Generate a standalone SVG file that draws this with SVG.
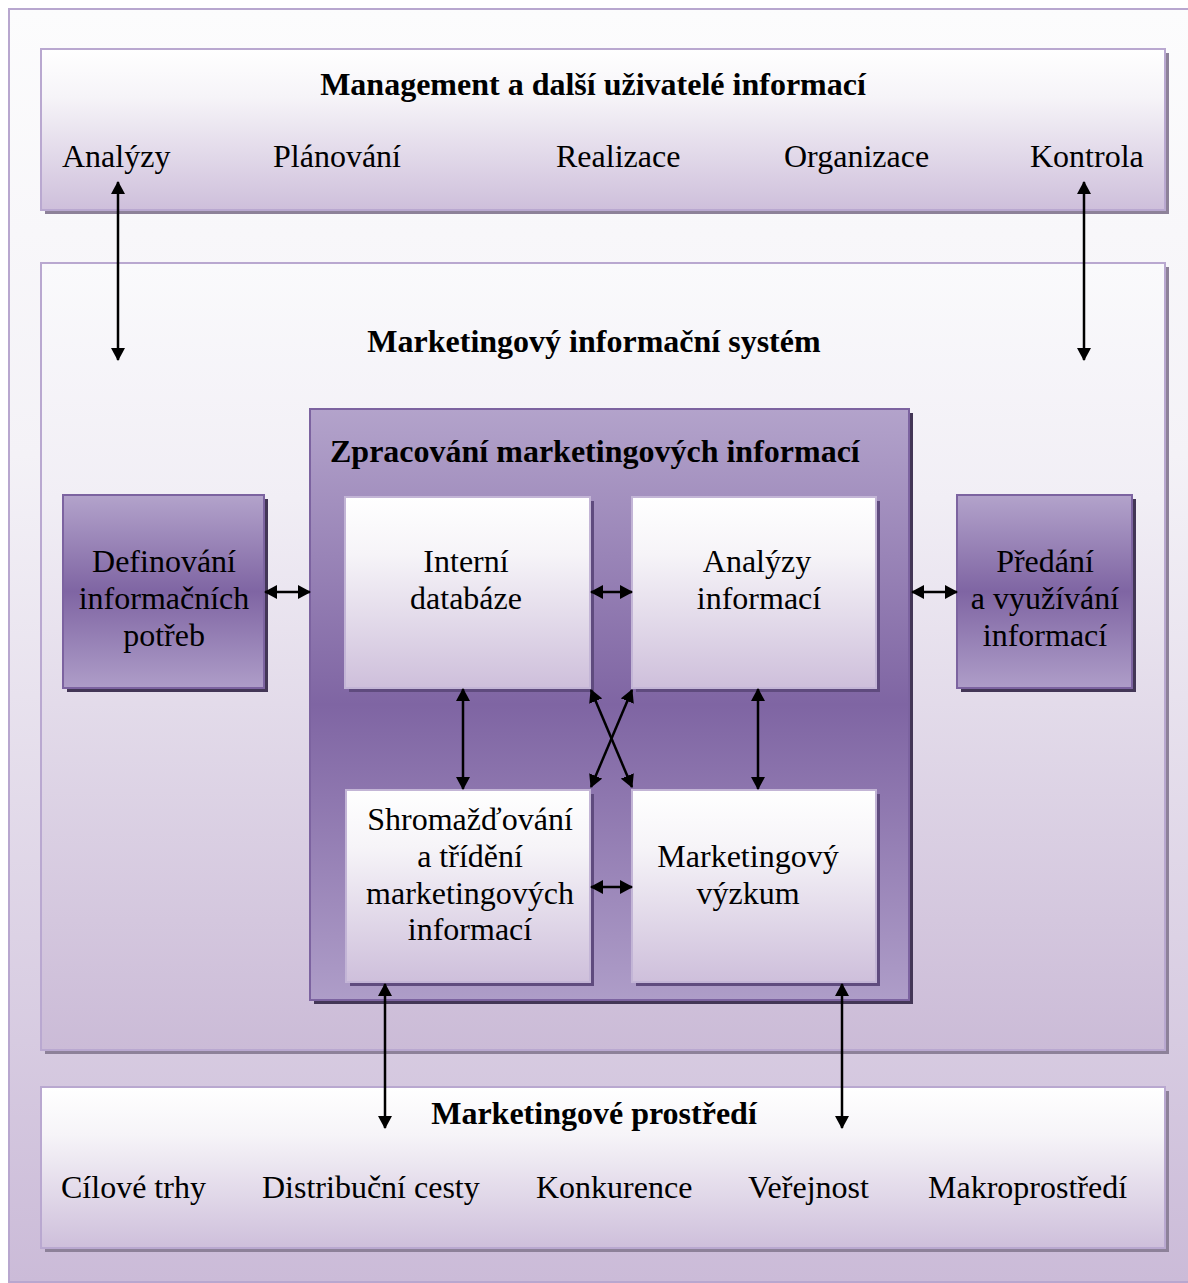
<svg xmlns="http://www.w3.org/2000/svg" width="1188" height="1283" viewBox="0 0 1188 1283">
  <defs>
    <linearGradient id="gFrame" x1="0" y1="0" x2="0" y2="1">
      <stop offset="0" stop-color="#fcfcfd"/>
      <stop offset="0.35" stop-color="#f4f2f7"/>
      <stop offset="1" stop-color="#cbbbd8"/>
    </linearGradient>
    <linearGradient id="gLight" x1="0" y1="0" x2="0" y2="1">
      <stop offset="0" stop-color="#ffffff"/>
      <stop offset="0.3" stop-color="#f6f4f8"/>
      <stop offset="1" stop-color="#cebfdb"/>
    </linearGradient>
    <linearGradient id="gSystem" x1="0" y1="0" x2="0" y2="1">
      <stop offset="0" stop-color="#fafafc"/>
      <stop offset="0.3" stop-color="#f1eef5"/>
      <stop offset="1" stop-color="#cbbbd7"/>
    </linearGradient>
    <linearGradient id="gPurple" x1="0" y1="0" x2="0" y2="1">
      <stop offset="0" stop-color="#b3a3cb"/>
      <stop offset="0.5" stop-color="#7f65a3"/>
      <stop offset="1" stop-color="#ae9dc8"/>
    </linearGradient>
    <marker id="ah" viewBox="0 0 13 14" refX="12" refY="7" markerWidth="13" markerHeight="14" markerUnits="userSpaceOnUse" orient="auto-start-reverse">
      <path d="M0,0 L13,7 L0,14 Z" fill="#000"/>
    </marker>
  </defs>
  <style>
    .t { font-family: "Liberation Serif", "Times New Roman", serif; font-size: 32px; fill: #000; }
    .b { font-weight: bold; }
    .c { text-anchor: middle; }
    .frame { fill: url(#gFrame); stroke: #b8a7cf; stroke-width: 2; }
    .light { fill: url(#gLight); stroke: #b9a8d0; stroke-width: 2; }
    .sys { fill: url(#gSystem); stroke: #b9a8d0; stroke-width: 2; }
    .purple { fill: url(#gPurple); stroke: #7c63a0; stroke-width: 2; }
    .inner { fill: url(#gLight); stroke: #c3b5d6; stroke-width: 2; }
    .shGrey { fill: #8d8199; }
    .shDark { fill: #433656; }
    .shInner { fill: #5f4b7e; }
    .conn line { stroke: #000; stroke-width: 2.5; marker-start: url(#ah); marker-end: url(#ah); }
  </style>

  <!-- background frame -->
  <rect x="9" y="9" width="1190" height="1273" class="frame"/>

  <!-- management layer -->
  <g id="management">
    <rect x="45" y="53" width="1124" height="161" class="shGrey"/>
    <rect x="41" y="49" width="1124" height="161" class="light"/>
    <text x="593" y="95" class="t b c">Management a další uživatelé informací</text>
    <text x="62" y="167" class="t">Analýzy</text>
    <text x="273" y="167" class="t">Plánování</text>
    <text x="556" y="167" class="t">Realizace</text>
    <text x="784" y="167" class="t">Organizace</text>
    <text x="1030" y="167" class="t">Kontrola</text>
  </g>

  <!-- information system layer -->
  <g id="system">
    <rect x="45" y="267" width="1124" height="787" class="shGrey"/>
    <rect x="41" y="263" width="1124" height="787" class="sys"/>
    <text x="594" y="352" class="t b c">Marketingový informační systém</text>
  </g>

  <g id="definovani">
    <rect x="67" y="499" width="201" height="193" class="shDark"/>
    <rect x="63" y="495" width="201" height="193" class="purple"/>
    <text x="164" y="572" class="t c">Definování</text>
    <text x="164" y="609" class="t c">informačních</text>
    <text x="164" y="646" class="t c">potřeb</text>
  </g>

  <g id="predani">
    <rect x="961" y="499" width="175" height="193" class="shDark"/>
    <rect x="957" y="495" width="175" height="193" class="purple"/>
    <text x="1045" y="572" class="t c">Předání</text>
    <text x="1045" y="609" class="t c">a využívání</text>
    <text x="1045" y="646" class="t c">informací</text>
  </g>

  <g id="zpracovani">
    <rect x="314" y="413" width="599" height="591" class="shDark"/>
    <rect x="310" y="409" width="599" height="591" class="purple"/>
    <text x="330" y="462" class="t b">Zpracování marketingových informací</text>
  </g>

  <g id="interni">
    <rect x="349" y="501" width="245" height="191" class="shInner"/>
    <rect x="345" y="497" width="245" height="191" class="inner"/>
    <text x="466" y="572" class="t c">Interní</text>
    <text x="466" y="609" class="t c">databáze</text>
  </g>

  <g id="analyzy">
    <rect x="636" y="501" width="244" height="191" class="shInner"/>
    <rect x="632" y="497" width="244" height="191" class="inner"/>
    <text x="757" y="572" class="t c">Analýzy</text>
    <text x="759" y="609" class="t c">informací</text>
  </g>

  <g id="shromazdovani">
    <rect x="350" y="794" width="244" height="192" class="shInner"/>
    <rect x="346" y="790" width="244" height="192" class="inner"/>
    <text x="470" y="830" class="t c">Shromažďování</text>
    <text x="470" y="867" class="t c">a třídění</text>
    <text x="470" y="904" class="t c">marketingových</text>
    <text x="470" y="940" class="t c">informací</text>
  </g>

  <g id="vyzkum">
    <rect x="636" y="794" width="244" height="192" class="shInner"/>
    <rect x="632" y="790" width="244" height="192" class="inner"/>
    <text x="748" y="867" class="t c">Marketingový</text>
    <text x="748" y="904" class="t c">výzkum</text>
  </g>

  <!-- environment layer -->
  <g id="prostredi">
    <rect x="45" y="1091" width="1124" height="161" class="shGrey"/>
    <rect x="41" y="1087" width="1124" height="161" class="light"/>
    <text x="594" y="1124" class="t b c">Marketingové prostředí</text>
    <text x="61" y="1198" class="t">Cílové trhy</text>
    <text x="262" y="1198" class="t">Distribuční cesty</text>
    <text x="536" y="1198" class="t">Konkurence</text>
    <text x="748" y="1198" class="t">Veřejnost</text>
    <text x="928" y="1198" class="t">Makroprostředí</text>
  </g>

  <!-- two-way connectors -->
  <g id="connectors" class="conn">
    <line x1="118" y1="182" x2="118" y2="360"/>
    <line x1="1084" y1="182" x2="1084" y2="360"/>
    <line x1="265" y1="592" x2="310" y2="592"/>
    <line x1="591" y1="592" x2="632" y2="592"/>
    <line x1="912" y1="592" x2="957" y2="592"/>
    <line x1="463" y1="689" x2="463" y2="789"/>
    <line x1="758" y1="689" x2="758" y2="789"/>
    <line x1="591" y1="690" x2="632" y2="787"/>
    <line x1="632" y1="690" x2="591" y2="787"/>
    <line x1="591" y1="887" x2="632" y2="887"/>
    <line x1="385" y1="984" x2="385" y2="1128"/>
    <line x1="842" y1="984" x2="842" y2="1128"/>
  </g>
</svg>
